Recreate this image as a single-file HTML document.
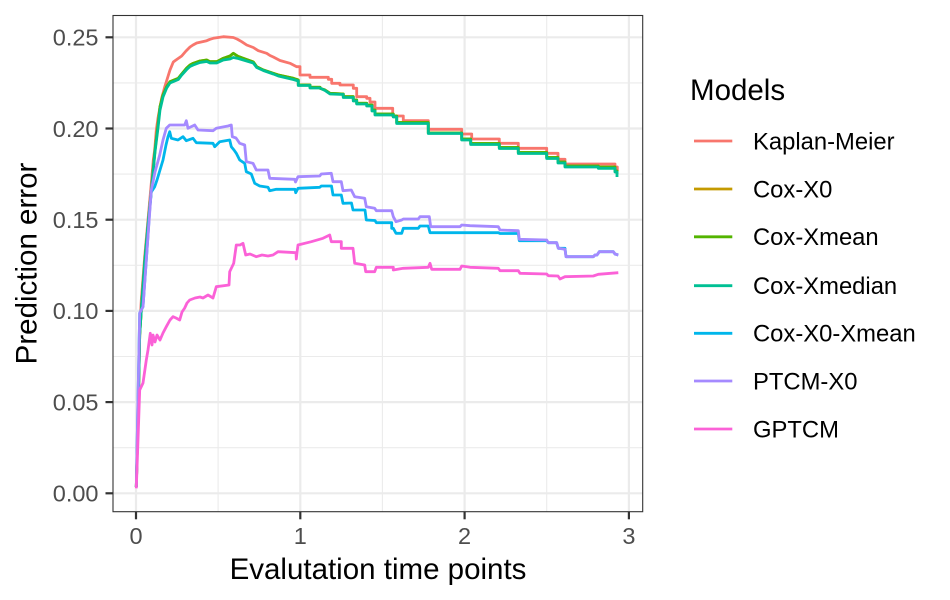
<!DOCTYPE html>
<html>
<head>
<meta charset="utf-8">
<style>
html,body{margin:0;padding:0;background:#fff;}
svg{display:block;}
text{font-family:"Liberation Sans",Arial,sans-serif;}
</style>
</head>
<body>
<svg width="950" height="600" viewBox="0 0 950 600" xmlns="http://www.w3.org/2000/svg">
<rect x="0" y="0" width="950" height="600" fill="#fff"/>
<!-- panel -->
<rect x="113" y="15.5" width="529.7" height="496.2" fill="#fff"/>
<g stroke="#EBEBEB" fill="none">
  <g stroke-width="1.1">
    <line x1="113" x2="642.7" y1="447.7" y2="447.7"/>
    <line x1="113" x2="642.7" y1="356.5" y2="356.5"/>
    <line x1="113" x2="642.7" y1="265.3" y2="265.3"/>
    <line x1="113" x2="642.7" y1="174.1" y2="174.1"/>
    <line x1="113" x2="642.7" y1="82.9" y2="82.9"/>
    <line y1="15.5" y2="511.7" x1="218.1" x2="218.1"/>
    <line y1="15.5" y2="511.7" x1="382.4" x2="382.4"/>
    <line y1="15.5" y2="511.7" x1="546.7" x2="546.7"/>
  </g>
  <g stroke-width="2.2">
    <line x1="113" x2="642.7" y1="493.3" y2="493.3"/>
    <line x1="113" x2="642.7" y1="402.1" y2="402.1"/>
    <line x1="113" x2="642.7" y1="310.9" y2="310.9"/>
    <line x1="113" x2="642.7" y1="219.7" y2="219.7"/>
    <line x1="113" x2="642.7" y1="128.5" y2="128.5"/>
    <line x1="113" x2="642.7" y1="37.3" y2="37.3"/>
    <line y1="15.5" y2="511.7" x1="136" x2="136"/>
    <line y1="15.5" y2="511.7" x1="300.3" x2="300.3"/>
    <line y1="15.5" y2="511.7" x1="464.6" x2="464.6"/>
    <line y1="15.5" y2="511.7" x1="628.9" x2="628.9"/>
  </g>
</g>

<g fill="none" stroke-width="2.8" stroke-linejoin="round">
<!-- Kaplan-Meier -->
<polyline stroke="#F8766D" points="136.3,487 138,420 139.7,330 141.3,300 144.7,256.7 148,220 151.3,183.3 153.3,160 154.7,150 156.3,130 158,118 161.7,98 165,86 170,70 173.3,62 176,60 181.7,56 186,51 190,47 193,45 196.7,43 206.7,40.7 210,39.3 213.3,38.3 223.3,36.7 233.3,37.5 237,39 241.7,41.7 246.7,45 253.3,47.5 258.3,50.7 266.7,53.3 270,55.5 273.3,57 280,60.5 290,63.3 296.7,66.7 300,66.7 300,75 310,75 310,77.3 328.3,77.3 328.3,79.3 331.7,79.3 331.7,83.3 340,83.3 340,85 353.3,85 353.3,88.3 356.7,88.3 356.7,96.7 366.7,96.7 366.7,98.3 370,98.3 370,102 375,102 375,108.3 392.7,108.3 392.7,116 403.3,116 403.3,120.7 428.3,120.7 428.3,129.3 461.7,129.3 461.7,134 471.7,134 471.7,139 499.3,139 499.3,143.3 518.3,143.3 518.3,148.3 546.7,148.3 546.7,153.3 558,153.3 558,159.3 565,159.3 565,164 615,164 615,167 617.3,167 617.3,171"/>
<!-- Cox-X0 -->
<polyline stroke="#C49A00" points="136.3,487 138,420 139.7,335 141.3,310 144.7,262 148,225 151.7,186.7 155,150 158,125 160,106.7 163,95 166.7,86.7 170,81.7 178.3,78.3 181.7,74 186.7,68 190,65 193.3,63.3 200,61 206.7,60 210,61.7 216.7,61.7 223.3,58.3 230,56 233.3,53.3 238.3,56.5 243.3,58.3 253.3,62 256.7,66.7 263.3,70 273.3,73.3 278.3,75 293.3,78.3 298.3,80 298.3,85 310,85 310,87.3 320,87.3 320,88.3 325,90 330,93.3 343.3,94 343.3,96.7 353.3,96.7 353.3,100 356.7,100 356.7,103.3 366.7,103.3 366.7,105 372,105 372,110 375,110 375,114 393.3,114 393.3,116 396.7,116 396.7,122.5 428.3,122.5 428.3,133 461.7,133 461.7,139 470.7,139 470.7,143.5 499.3,143.5 499.3,147.5 518.3,147.5 518.3,152.5 546.7,152.5 546.7,157.5 558,157.5 558,162 565,162 565,166 598.3,166 598.3,167 615,167 615,171 617,171 617,174"/>
<!-- Cox-Xmean -->
<polyline stroke="#53B400" points="136.3,487 138,420 139.7,335 141.3,310 144.7,262 148,225 151.7,186.7 155,150 158,125 160,106.7 163,95 166.7,86.7 170,81.7 178.3,78.3 181.7,74 186.7,68 190,65 193.3,63.3 200,61 206.7,60 210,61.7 216.7,61.7 223.3,58.3 230,56 233.3,53.3 238.3,56.5 243.3,58.3 253.3,62 256.7,66.7 263.3,70 273.3,73.3 278.3,75 293.3,78.3 298.3,80 298.3,85 310,85 310,87.3 320,87.3 320,88.3 325,90 330,93.3 343.3,94 343.3,96.7 353.3,96.7 353.3,100 356.7,100 356.7,103.3 366.7,103.3 366.7,105 372,105 372,110 375,110 375,114 393.3,114 393.3,116 396.7,116 396.7,122.5 428.3,122.5 428.3,133 461.7,133 461.7,139 470.7,139 470.7,143.5 499.3,143.5 499.3,147.5 518.3,147.5 518.3,152.5 546.7,152.5 546.7,157.5 558,157.5 558,162 565,162 565,166 598.3,166 598.3,167 615,167 615,171 617,171 617,174"/>
<!-- Cox-Xmedian -->
<polyline stroke="#00C094" points="136.3,487 138,420 139.7,335 141.3,310 144.7,262 148,225 151.7,186.7 155,152 158,128 160,110 163,97 166.7,88 170,83 178.3,79.5 181.7,75 186.7,69.5 190,66.5 193.3,65 200,62.5 206.7,61.5 210,63 216.7,63 223.3,60 230,59 233.3,57.5 238.3,58.5 243.3,60 253.3,63 256.7,67.5 263.3,70.5 273.3,74 278.3,76 293.3,79.5 298.3,81 298.3,85.5 310,85.5 310,88 320,88 325,90.5 330,94 343.3,94.5 343.3,97.5 353.3,97.5 353.3,101 356.7,101 356.7,104 366.7,104 366.7,106 372,106 372,111 375,111 375,115 393.3,115 393.3,117 396.7,117 396.7,123.5 428.3,123.5 428.3,133.5 461.7,133.5 461.7,140 470.7,140 470.7,144.5 499.3,144.5 499.3,148.5 518.3,148.5 518.3,153.5 546.7,153.5 546.7,158.5 558,158.5 558,163 565,163 565,167 598.3,167 598.3,168.3 615,168.3 615,172 617,172 617,177"/>
<!-- Cox-X0-Xmean -->
<polyline stroke="#00B6EB" points="136.3,487 138,400 139.7,313 143,306.7 146.3,260 149.7,210 151.3,192 154.7,186.7 157,180 160,170 163,160 166,145 168,136.7 169.7,131.7 171.3,138.3 178,140 183,136.7 186.3,140.7 193,138.3 196.3,142.7 213,143.3 214.7,146.7 219.7,141.7 229.7,140 231.3,146.7 234,150 236.3,153.3 239.7,160 244.7,163.3 246.3,171.7 251.3,174 254.7,183.3 259.7,186 268,187.3 269.7,190.7 276.3,189.3 295,189.3 295.7,192.7 298,188.3 319.7,187.3 321.3,186 331.5,186 333,195 341.3,195 343,203.3 351.5,203 353,210 365,210 366.3,220 375,220.5 376.3,222.7 391.7,222.7 391.7,228.3 393.3,228.3 396,233.3 401.7,233.3 403.3,228.3 418.3,228.3 420,226 428.3,226 430,232.7 498.3,232.7 500,233.5 518.3,233.5 519.3,240.7 546.7,240.7 548.3,242.7 556.7,242.7 558.3,248.3 565,248.3 566,256.7 593.3,256.7 595,255 597,255 599.3,251.7 613.3,251.7 615,254 618.3,255"/>
<!-- PTCM-X0 -->
<polyline stroke="#A58AFF" points="136.3,487 138,400 139.7,313 143,306.7 146.3,260 151.3,190 153,182 155,172 159.7,155 163,140 166.3,128.3 169.7,125 184.7,125 186.3,120.7 188,128.3 194.7,125 198,130 213,130.7 216.3,128.3 228,126 231.3,125 232.3,136.7 236,138 239.7,143.3 244.7,145 246.3,161.7 253,163.3 256.3,170 268,170 269.7,178.3 294.7,179.3 295.5,182 298,176.7 319.7,176 321.3,174 331.3,173.3 333,181.7 341.3,181.7 343,190.7 351.3,190 354.7,196.7 364.7,198.3 366.3,206.7 374.7,208.3 376.3,210.7 391.7,210.7 393.3,216.7 396,221.7 401.7,220 403.3,219 418.3,219 420,216.7 429.3,216.7 430.7,226.7 460,226.7 461.7,225 470,225.7 498.3,226.7 500,230 518.3,230.7 519.3,239.3 546.7,240 548.3,242.7 556.7,242.7 558.3,248.3 565,249.3 566,256.7 593.3,256.7 595,255 597,255 599.3,251.7 613.3,251.7 615,254 618.3,255"/>
<!-- GPTCM -->
<polyline stroke="#FB61D7" points="136.3,488.3 138,440 139.7,390 143,383 146.3,360 148,350 150.3,333.3 152,345 153,335 155,342 157,335 160,340 163,333 166.3,326.7 170,320 173,316.7 176,318 179.7,320 182,312 184.7,308 187,303 189.7,300 195,298 200,297 203,298 208,295 213,298 216.3,286.7 229,285 229.7,271.7 233.7,263.3 236.3,245 240,245 243,243.3 245.7,255 250,254 256.3,256.7 262,255 268,256 273,255 278,251.7 296,252.7 296.3,259 297,252.7 298,245 311.3,241.7 323,238.3 329.7,235 331.3,241.7 341.3,241.7 341.3,248.3 353,248.3 354.7,263.3 364.7,265 365.7,271.7 374.7,271.7 376.3,267.3 393.3,267.3 393.3,270 403.3,268.3 428.3,267.3 430,263.3 431.7,269.3 460,269.3 461.7,266 470,267.3 498.3,268.3 500,270.7 518.3,270.7 520,273.3 546.7,274 548.3,275.7 558,276 560,279 565,276.7 593.3,276 598.3,274.3 618.3,272.7"/>
</g>

<!-- panel border -->
<rect x="113" y="15.5" width="529.7" height="496.2" fill="none" stroke="#333333" stroke-width="1.1"/>

<!-- ticks -->
<g stroke="#333333" stroke-width="2.2">
  <line x1="105.5" x2="113" y1="493.3" y2="493.3"/>
  <line x1="105.5" x2="113" y1="402.1" y2="402.1"/>
  <line x1="105.5" x2="113" y1="310.9" y2="310.9"/>
  <line x1="105.5" x2="113" y1="219.7" y2="219.7"/>
  <line x1="105.5" x2="113" y1="128.5" y2="128.5"/>
  <line x1="105.5" x2="113" y1="37.3" y2="37.3"/>
  <line y1="511.7" y2="519.3" x1="136" x2="136"/>
  <line y1="511.7" y2="519.3" x1="300.3" x2="300.3"/>
  <line y1="511.7" y2="519.3" x1="464.6" x2="464.6"/>
  <line y1="511.7" y2="519.3" x1="628.9" x2="628.9"/>
</g>

<g fill="#4D4D4D" font-size="23.5" text-anchor="end">
  <text x="98.5" y="501.6">0.00</text>
  <text x="98.5" y="410.4">0.05</text>
  <text x="98.5" y="319.2">0.10</text>
  <text x="98.5" y="228">0.15</text>
  <text x="98.5" y="136.8">0.20</text>
  <text x="98.5" y="45.6">0.25</text>
</g>
<g fill="#4D4D4D" font-size="23.5" text-anchor="middle">
  <text x="136" y="544">0</text>
  <text x="300.3" y="544">1</text>
  <text x="464.6" y="544">2</text>
  <text x="628.9" y="544">3</text>
</g>

<text x="378" y="579" font-size="29.5" text-anchor="middle" fill="#000">Evalutation time points</text>
<text transform="translate(36.5,263.5) rotate(-90)" font-size="29.5" text-anchor="middle" fill="#000">Prediction error</text>

<!-- legend -->
<text x="690" y="100" font-size="29.5" fill="#000">Models</text>
<g stroke-width="2.8">
  <line x1="694" x2="732.3" y1="141" y2="141" stroke="#F8766D"/>
  <line x1="694" x2="732.3" y1="189" y2="189" stroke="#C49A00"/>
  <line x1="694" x2="732.3" y1="236.8" y2="236.8" stroke="#53B400"/>
  <line x1="694" x2="732.3" y1="285.7" y2="285.7" stroke="#00C094"/>
  <line x1="694" x2="732.3" y1="333.3" y2="333.3" stroke="#00B6EB"/>
  <line x1="694" x2="732.3" y1="381" y2="381" stroke="#A58AFF"/>
  <line x1="694" x2="732.3" y1="429" y2="429" stroke="#FB61D7"/>
</g>
<g fill="#000" font-size="23.8">
  <text x="753" y="149.4">Kaplan-Meier</text>
  <text x="753" y="197.4">Cox-X0</text>
  <text x="753" y="245.2">Cox-Xmean</text>
  <text x="753" y="294.1">Cox-Xmedian</text>
  <text x="753" y="341.7">Cox-X0-Xmean</text>
  <text x="753" y="389.4">PTCM-X0</text>
  <text x="753" y="437.4">GPTCM</text>
</g>
</svg>
</body>
</html>
